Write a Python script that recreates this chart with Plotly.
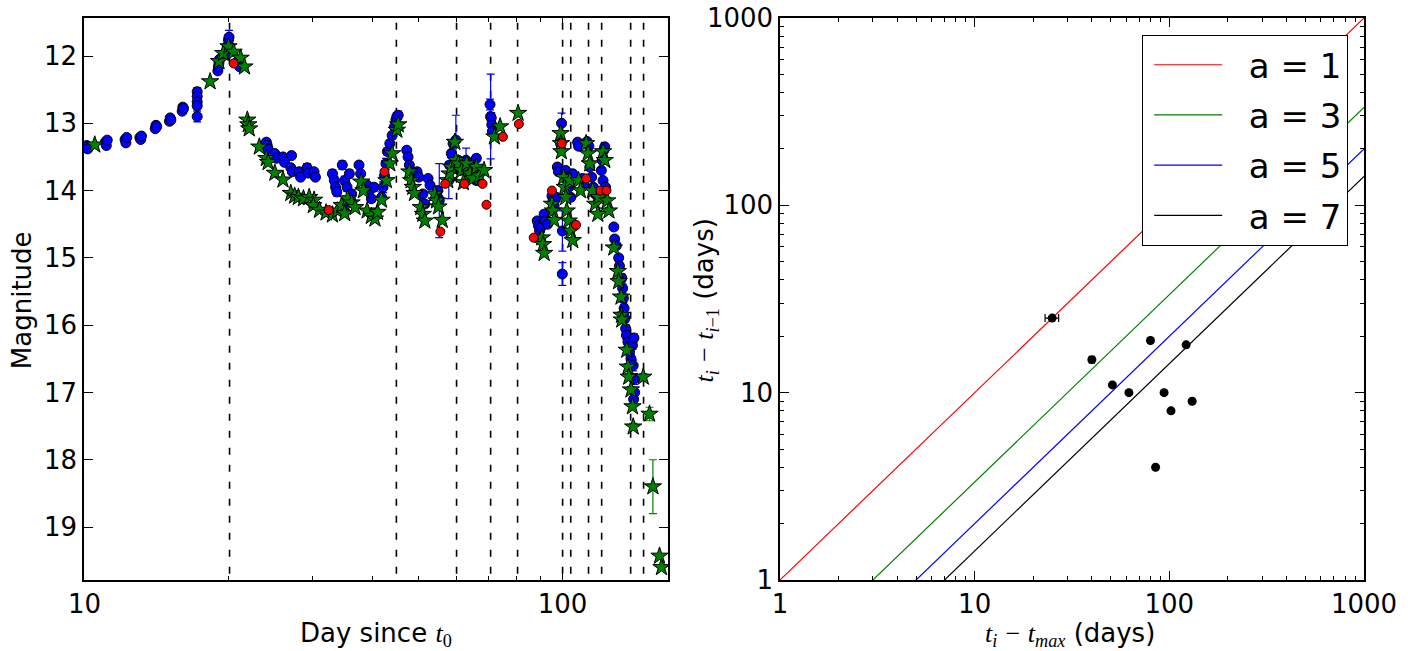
import plotly.graph_objects as go

# ---------------- Left panel data: light curve ----------------
blue_day = [10.05, 10.1, 10.15, 11.05, 11.1, 11.15, 12.15, 12.2, 12.25, 13.05, 13.1, 13.15,
            14.05, 14.1, 14.15, 15.05, 15.1, 15.15, 16.0, 16.05, 16.1,
            17.2, 17.2, 17.2, 17.2, 17.2,
            19.0, 19.05, 19.1, 19.15, 19.8, 19.9, 20.0, 20.05, 20.9, 21.0, 21.1,
            24.0, 24.1, 24.2, 25.0, 25.2, 26.0, 26.2, 27.1, 27.0, 27.2, 28.1, 28.3,
            29.2, 29.4, 30.2, 30.4,
            33.0, 33.3, 33.5, 33.7, 34.6, 35.0, 35.4, 35.8, 36.2, 35.2, 37.5, 37.8,
            39.0, 39.4, 39.8, 40.3, 41.8, 42.1, 42.4, 42.7, 43.0, 43.5, 44.0,
            44.5, 44.8, 45.0, 45.3,
            47.2, 47.5, 47.8, 49.6, 50.0, 51.0, 51.5, 52.3, 52.8, 54.8, 55.0, 55.2,
            57.8, 58.0, 58.5, 59.0, 59.8, 60.5, 61.0, 62.8, 64.0, 65.0, 66.0, 67.0, 66.0,
            70.5, 70.7, 70.9, 71.1, 71.3,
            88.5, 89.0, 89.5, 90.0, 91.5, 92.0, 93.0, 95.0, 95.5, 96.0, 97.0, 97.5, 98.0,
            99.5, 99.0, 99.3, 99.9, 99.85,
            101.5, 102.5, 103.0, 104.0, 105.0, 107.5, 108.0, 110.0, 111.0, 112.5, 113.5,
            114.0, 115.0, 116.0, 117.0, 120.5, 121.0, 122.0, 122.5, 121.5, 123.0,
            128.0, 128.5, 129.5, 131.0, 131.5, 133.0, 133.5, 134.0, 134.5, 135.0,
            135.5, 136.0, 137.0, 138.0, 139.0, 140.0, 141.0, 140.5, 141.0, 141.5, 140.8]
blue_mag = [13.36, 13.33, 13.38, 13.28, 13.33, 13.25, 13.24, 13.29, 13.21, 13.21, 13.24, 13.19,
            13.08, 13.03, 13.05, 12.97, 12.92, 12.95, 12.82, 12.76, 12.78,
            12.53, 12.6, 12.68, 12.74, 12.9,
            12.22, 12.16, 12.1, 12.05, 11.95, 11.85, 11.76, 11.72, 12.08, 12.12, 12.16,
            13.28, 13.33, 13.38, 13.45, 13.52, 13.5, 13.58, 13.48, 13.66, 13.72, 13.72, 13.8,
            13.66, 13.74, 13.72, 13.8,
            13.75, 13.85, 13.95, 14.02, 13.62, 13.85, 13.95, 13.75, 14.05, 14.18, 13.62, 13.75,
            13.92, 14.0, 14.12, 13.95, 14.1, 13.95, 13.78, 13.6, 13.42, 13.3, 13.18,
            13.05, 12.95, 12.9, 12.88,
            13.4, 13.5, 13.62, 13.72, 13.8, 14.05, 14.2, 13.82, 13.92, 14.0, 14.12, 14.15,
            13.85, 13.62, 13.45, 13.3, 13.25, 13.55, 13.7, 13.55, 13.6, 13.7, 13.85, 13.75, 13.52,
            12.72, 12.9, 12.92, 13.02, 13.12,
            14.45, 14.52, 14.6, 14.55, 14.35, 14.45, 14.5, 14.08, 14.15, 14.22, 14.1, 13.65, 13.72,
            13.0, 13.3, 13.4, 14.6, 15.24,
            13.7, 13.8, 13.95, 14.1, 13.75, 13.28, 13.34, 13.82, 13.92, 13.27, 13.34,
            13.65, 13.8, 13.95, 14.05, 13.7, 13.55, 13.4, 13.35, 13.85, 13.95,
            14.54, 14.72, 14.82, 15.0, 15.12, 15.3, 15.45, 15.6, 15.75, 15.9,
            16.05, 16.15, 16.25, 16.4, 16.5, 16.3, 16.19, 16.6, 16.8, 17.0, 17.1]
blue_err = [0.03, 0.03, 0.03, 0.03, 0.03, 0.03, 0.03, 0.03, 0.03, 0.03, 0.03, 0.03,
            0.03, 0.03, 0.03, 0.03, 0.03, 0.03, 0.03, 0.03, 0.03,
            0.06, 0.05, 0.05, 0.05, 0.08,
            0.04, 0.04, 0.04, 0.04, 0.05, 0.05, 0.08, 0.1, 0.04, 0.04, 0.04,
            0.03, 0.03, 0.03, 0.03, 0.03, 0.03, 0.03, 0.03, 0.03, 0.03, 0.03, 0.03,
            0.06, 0.04, 0.03, 0.03,
            0.06, 0.06, 0.06, 0.06, 0.06, 0.06, 0.06, 0.06, 0.06, 0.1, 0.04, 0.04,
            0.05, 0.05, 0.05, 0.05, 0.08, 0.08, 0.08, 0.08, 0.05, 0.05, 0.05,
            0.06, 0.06, 0.06, 0.06,
            0.04, 0.04, 0.04, 0.05, 0.05, 0.04, 0.04, 0.04, 0.04, 0.05, 0.05, 0.55,
            0.27, 0.05, 0.05, 0.05, 0.37, 0.05, 0.05, 0.18, 0.05, 0.05, 0.05, 0.05, 0.05,
            0.08, 0.63, 0.08, 0.05, 0.05,
            0.04, 0.04, 0.04, 0.04, 0.04, 0.04, 0.04, 0.04, 0.04, 0.04, 0.04, 0.04, 0.04,
            0.15, 0.04, 0.04, 0.3, 0.17,
            0.04, 0.04, 0.04, 0.04, 0.04, 0.04, 0.04, 0.04, 0.04, 0.04, 0.04,
            0.04, 0.04, 0.04, 0.04, 0.04, 0.04, 0.04, 0.04, 0.04, 0.04,
            0.04, 0.04, 0.04, 0.05, 0.05, 0.06, 0.06, 0.06, 0.06, 0.06,
            0.06, 0.06, 0.06, 0.06, 0.06, 0.06, 0.06, 0.08, 0.08, 0.08, 0.08]

green_day = [10.5, 18.3, 19.1, 19.5, 20.0, 20.5, 21.2, 21.6, 21.9, 22.0, 22.1, 23.2,
             24.0, 24.2, 25.0, 26.0, 27.0, 27.5, 28.0, 28.7, 29.5, 30.2, 30.1, 31.0,
             32.0, 33.0, 33.8, 34.5, 35.0, 35.5, 36.2, 36.8, 37.9, 38.3,
             39.0, 39.8, 40.5, 41.0, 41.8, 42.8, 43.5, 44.0, 45.0, 45.3,
             47.8, 48.2, 48.6, 49.0, 50.5, 51.0, 51.5, 54.0, 54.5, 55.0, 56.0,
             57.5, 58.0, 58.5, 59.5, 59.8, 60.5, 61.5, 62.0, 63.0, 64.0, 65.0, 66.0, 67.0, 68.5,
             72.0, 74.0, 80.7,
             90.5, 91.0, 91.5, 95.0, 95.5, 96.0, 99.0, 99.2, 99.4,
             100.5, 101.0, 101.5, 102.0, 103.0, 104.0, 105.0, 103.5, 108.0, 109.0,
             112.0, 113.0, 114.0, 115.5, 117.0, 118.5, 119.0, 121.5, 122.5, 124.0, 125.0,
             128.0, 130.5, 131.0, 132.5, 132.8, 133.0,
             136.2, 137.0, 137.5, 139.0, 140.0, 140.5, 147.5, 152.0, 154.5, 159.5, 161.0]
green_mag = [13.32, 12.38, 12.08, 11.96, 11.86, 11.94, 12.03, 12.16, 12.95, 13.02, 13.08, 13.35,
             13.52, 13.58, 13.74, 13.84, 14.04, 14.08, 14.1, 14.12, 14.1, 14.14, 14.22, 14.29,
             14.33, 14.36, 14.3, 14.22, 14.34, 14.12, 14.18, 14.25, 13.87, 14.0,
             14.3, 14.38, 14.42, 14.32, 14.14, 13.85, 13.6, 13.45, 13.1, 13.02,
             13.72, 13.85, 13.95, 14.04, 14.25, 14.35, 14.45, 14.05, 14.15, 14.24, 14.44,
             13.85, 13.75, 13.65, 13.28, 13.55, 13.6, 13.7, 13.88, 13.6, 13.75, 13.82, 13.65, 13.78, 13.7,
             13.2, 13.05, 12.85,
             14.7, 14.8, 14.93, 14.2, 14.3, 14.44, 13.15, 13.3, 13.42,
             13.8, 13.95, 14.1, 14.3, 14.45, 14.6, 14.74, 13.85, 13.85, 14.0,
             13.3, 13.45, 13.6, 14.0, 14.2, 14.35, 14.1, 13.42, 13.55, 14.15, 14.3,
             14.85, 15.2, 15.35, 15.58, 15.85, 15.92,
             16.37, 16.62, 16.77, 16.96, 17.21, 17.51, 16.77, 17.32, 18.4, 19.43, 19.6]
green_err = ([0.02] * 100 + [0.05] * 4 + [0.05, 0.05, 0.05, 0.05, 0.05, 0.05, 0.05,
             0.05, 0.05, 0.05, 0.05, 0.1, 0.4, 0.02, 0.02, 0.1, 0.65, 0.8])[:117]

red_day = [20.5, 32.4, 42.4, 55.5, 56.8, 62.3, 68.0, 69.3, 75.0, 81.0, 87.0, 95.0,
           99.6, 106.7, 112.0, 120.0, 123.5]
red_mag = [12.11, 14.29, 13.72, 14.61, 13.9, 13.9, 13.9, 14.21, 13.2, 13.01, 14.7, 14.0,
           13.3, 14.51, 13.82, 14.0, 14.0]

dashed_days = [20.1, 44.9, 60.0, 70.7, 80.5, 100.0, 104.0, 113.3, 120.7, 138.8, 147.7]

# ---------------- Right panel data ----------------
dt_max = [25, 40, 51, 62, 80, 85, 94, 102, 122, 131]
dt_prev = [25, 15, 11, 10, 19, 4, 10, 8, 18, 9]
dt_max_err = [2.0, 1.2, 0.8, 0.5, 0.5, 0.5, 0.5, 0.5, 0.5, 0.5]
a_values = [1, 3, 5, 7]
a_colors = ["#ff0000", "#008000", "#0000ff", "#000000"]
line_x = [1, 1000]

FONT = "DejaVu Sans"
FS = 26

fig = go.Figure()

# dashed vertical lines
vx, vy = [], []
for d in dashed_days:
    vx += [d, d, None]
    vy += [11.0, 20.5, None]
fig.add_trace(go.Scatter(x=vx, y=vy, mode="lines", xaxis="x", yaxis="y",
                         line=dict(color="black", width=1.6, dash="7px,10px"),
                         showlegend=False, hoverinfo="skip"))

fig.add_trace(go.Scatter(x=blue_day, y=blue_mag, mode="markers", xaxis="x", yaxis="y",
                         marker=dict(symbol="circle", size=10, color="#0000ff",
                                     line=dict(color="black", width=1)),
                         error_y=dict(type="data", array=blue_err, color="#0000ff",
                                      thickness=1.2, width=4),
                         showlegend=False))
fig.add_trace(go.Scatter(x=green_day, y=green_mag, mode="markers", xaxis="x", yaxis="y",
                         marker=dict(symbol="star", size=13, color="#008000",
                                     line=dict(color="black", width=1)),
                         error_y=dict(type="data", array=green_err, color="#008000",
                                      thickness=1.2, width=4),
                         showlegend=False))
fig.add_trace(go.Scatter(x=red_day, y=red_mag, mode="markers", xaxis="x", yaxis="y",
                         marker=dict(symbol="circle", size=9, color="#ff0000",
                                     line=dict(color="black", width=1)),
                         showlegend=False))

# right panel lines
for a, c in zip(a_values, a_colors):
    fig.add_trace(go.Scatter(x=line_x, y=[v / a for v in line_x], mode="lines",
                             xaxis="x2", yaxis="y2", line=dict(color=c, width=1.2),
                             name=f"\u00a0\u00a0a = {a}", legendgroup=f"g{a}"))

fig.add_trace(go.Scatter(x=dt_max, y=dt_prev, mode="markers", xaxis="x2", yaxis="y2",
                         marker=dict(symbol="circle", size=9, color="black"),
                         error_x=dict(type="data", array=dt_max_err, color="black",
                                      thickness=1.2, width=4),
                         showlegend=False))

axis_common = dict(showline=True, linecolor="black", linewidth=1.5, mirror="allticks",
                   ticks="inside", ticklen=9, tickwidth=1.2, tickcolor="black",
                   showgrid=False, zeroline=False, automargin=False,
                   ticklabeloverflow="allow",
                   tickfont=dict(family=FONT, size=FS, color="black"))
minor_log = dict(ticks="inside", ticklen=4.5, tickwidth=1, tickcolor="black",
                 dtick="D1", showgrid=False)

fig.update_layout(
    width=1408, height=651, autosize=False,
    margin=dict(l=84, r=44, t=18, b=71, autoexpand=False),
    paper_bgcolor="white", plot_bgcolor="white",
    font=dict(family=FONT, size=FS, color="black"),
    xaxis=dict(domain=[0, 0.45625], type="log", range=[0.9987, 2.2205],
               tickvals=[10, 100], ticktext=["10", "100"], minor=minor_log, **axis_common),
    yaxis=dict(domain=[0, 1], range=[19.787, 11.435], tickvals=list(range(12, 20)),
               **axis_common),
    xaxis2=dict(domain=[0.54375, 1], type="log", range=[0, 3], anchor="y2",
                tickvals=[1, 10, 100, 1000], ticktext=["1", "10", "100", "1000"],
                minor=minor_log, **axis_common),
    yaxis2=dict(domain=[0, 1], type="log", range=[0, 3], anchor="x2",
                tickvals=[1, 10, 100, 1000], ticktext=["1", "10", "100", "1000"],
                minor=minor_log, **axis_common),
    legend=dict(x=0.9875, y=0.9698, xanchor="right", yanchor="top",
                bordercolor="black", borderwidth=1.2, bgcolor="white",
                font=dict(family=FONT, size=34, color="black"),
                tracegroupgap=3, itemwidth=68, indentation=6),
)

serif = "font-family:'Liberation Serif', serif; font-style:italic"
ann = dict(xref="paper", yref="paper", showarrow=False, xanchor="center",
           yanchor="middle", font=dict(size=FS))
fig.add_annotation(text="Magnitude", x=-0.0484, y=0.498, textangle=-90, **ann)
fig.add_annotation(text=f"Day since <span style=\"{serif}\">t</span><sub><span style=\"font-family:'Liberation Serif', serif\">0</span></sub>",
                   x=0.228, y=-0.0961, **ann)
fig.add_annotation(text=f"<span style=\"{serif}\">t<sub>i</sub> − t<sub>i</sub></span><sub><span style=\"font-family:'Liberation Serif', serif\">−1</span></sub> (days)",
                   x=0.4855, y=0.498, textangle=-90, **ann)
fig.add_annotation(text=f"<span style=\"{serif}\">t<sub>i</sub> − t<sub>max</sub></span> (days)",
                   x=0.7703, y=-0.0961, **ann)

fig.write_html("out.html", config={"displayModeBar": False},
               post_script="document.body.style.margin='0';")
